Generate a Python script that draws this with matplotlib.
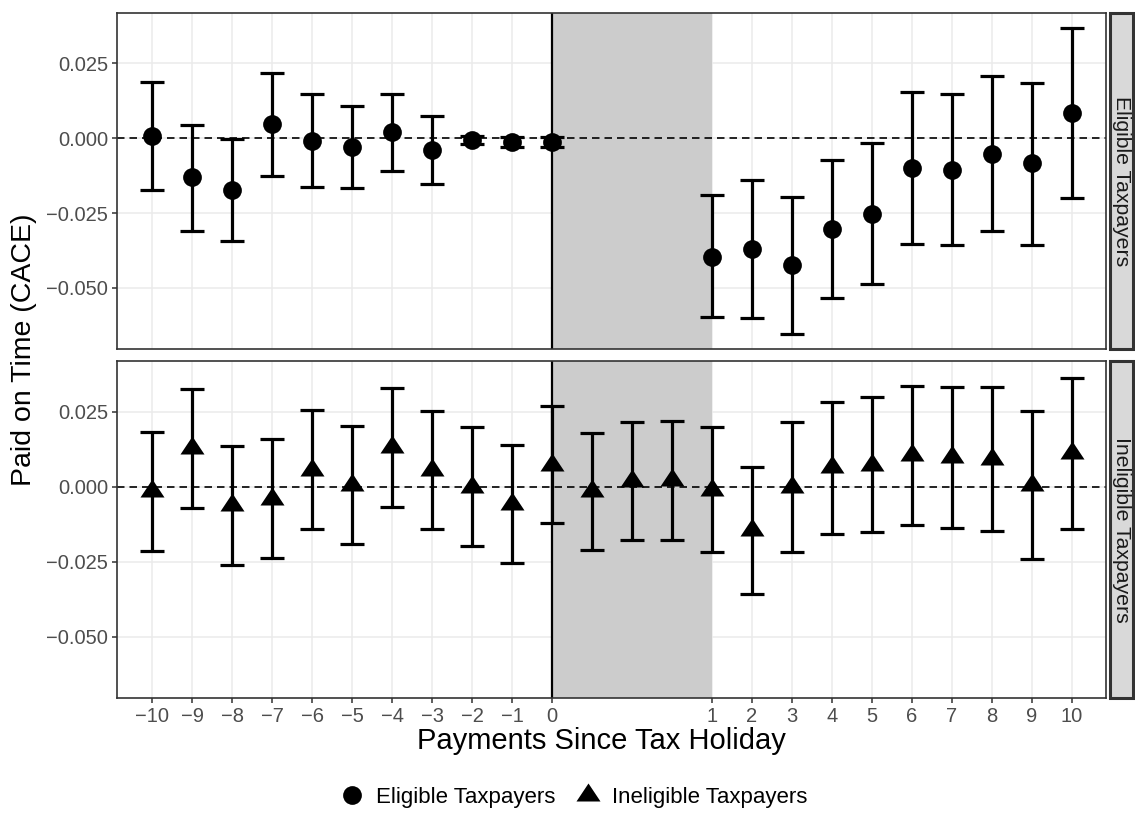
import numpy as np
import matplotlib
matplotlib.use("Agg")
import matplotlib.pyplot as plt
from matplotlib.path import Path
from matplotlib.patches import Rectangle
from matplotlib.lines import Line2D
from matplotlib.ticker import FuncFormatter, NullLocator

plt.rcParams['font.family'] = ['Liberation Sans', 'DejaVu Sans']

# ---------------- data ----------------
periods_elig = [-10, -9, -8, -7, -6, -5, -4, -3, -2, -1, 0,
                1, 2, 3, 4, 5, 6, 7, 8, 9, 10]
elig_est = [0.0007, -0.0131, -0.0173, 0.0046, -0.0009, -0.0029, 0.0019, -0.0040, -0.0005, -0.0012, -0.0012,
            -0.0396, -0.0371, -0.0424, -0.0303, -0.0252, -0.0100, -0.0107, -0.0052, -0.0084, 0.0084]
elig_lo = [-0.0173, -0.0309, -0.0342, -0.0127, -0.0163, -0.0166, -0.0109, -0.0152, -0.0018, -0.0028, -0.0028,
           -0.0598, -0.0601, -0.0653, -0.0533, -0.0487, -0.0352, -0.0358, -0.0311, -0.0356, -0.0201]
elig_hi = [0.0187, 0.0043, -0.0004, 0.0219, 0.0147, 0.0107, 0.0146, 0.0073, 0.0008, 0.0004, 0.0004,
           -0.0190, -0.0141, -0.0196, -0.0072, -0.0016, 0.0153, 0.0146, 0.0207, 0.0184, 0.0368]

periods_inel = [-10, -9, -8, -7, -6, -5, -4, -3, -2, -1, 0,
                0.25, 0.5, 0.75,
                1, 2, 3, 4, 5, 6, 7, 8, 9, 10]
inel_est = [-0.0015, 0.0128, -0.0062, -0.0040, 0.0056, 0.0006, 0.0131, 0.0055, 0.0000, -0.0059, 0.0073,
            -0.0015, 0.0019, 0.0022,
            -0.0010, -0.0145, -0.0002, 0.0064, 0.0073, 0.0104, 0.0098, 0.0092, 0.0006, 0.0111]
inel_lo = [-0.0213, -0.0070, -0.0260, -0.0238, -0.0142, -0.0192, -0.0067, -0.0142, -0.0196, -0.0254, -0.0121,
           -0.0210, -0.0179, -0.0176,
           -0.0219, -0.0357, -0.0217, -0.0156, -0.0152, -0.0127, -0.0138, -0.0148, -0.0240, -0.0140]
inel_hi = [0.0183, 0.0326, 0.0136, 0.0159, 0.0254, 0.0203, 0.0329, 0.0252, 0.0197, 0.0137, 0.0267,
           0.0180, 0.0216, 0.0220,
           0.0200, 0.0067, 0.0214, 0.0283, 0.0298, 0.0334, 0.0333, 0.0332, 0.0251, 0.0361]

x_ticks = list(range(-10, 11))
y_ticks = [-0.050, -0.025, 0.000, 0.025]
panel_labels = ["Eligible Taxpayers", "Ineligible Taxpayers"]
x_title = "Payments Since Tax Holiday"
y_title = "Paid on Time (CACE)"

# ---------------- scale: holiday window stretched (0..1 spans 4 steps) ----------------
def fwd(x):
    x = np.asarray(x, dtype=float)
    return np.where(x <= 0, x + 10, np.where(x <= 1, 10 + 4 * x, x + 13))

def inv(p):
    p = np.asarray(p, dtype=float)
    return np.where(p <= 10, p - 10, np.where(p <= 14, (p - 10) / 4, p - 13))

tri = Path([(0, 1), (-1, -0.5), (1, -0.5), (0, 0)],
           [Path.MOVETO, Path.LINETO, Path.LINETO, Path.CLOSEPOLY])

W, H = 1135, 818
fig = plt.figure(figsize=(W / 100, H / 100), dpi=100)
left = 116.7 / W
right = 1106 / W
ax1 = fig.add_axes([left, 1 - 349 / H, right - left, (349 - 12.7) / H])
ax2 = fig.add_axes([left, 1 - 698.3 / H, right - left, (698.3 - 360.7) / H])

def yfmt(v, _):
    return f"{v:.3f}".replace("-", "\u2212") if abs(v) > 1e-9 else "0.000"

def xfmt(v, _):
    return f"{int(round(v))}".replace("-", "\u2212")

series = [
    (ax1, periods_elig, elig_est, elig_lo, elig_hi, 'o', 13.5),
    (ax2, periods_inel, inel_est, inel_lo, inel_hi, tri, 17.3),
]

for ax, xs, est, lo, hi, mk, ms in series:
    ax.set_xscale('function', functions=(fwd, inv))
    ax.set_xlim(-10.89, 10.86)
    ax.set_ylim(-0.0704, 0.0419)
    ax.set_xticks(x_ticks)
    ax.set_yticks(y_ticks)
    ax.xaxis.set_minor_locator(NullLocator())
    ax.yaxis.set_minor_locator(NullLocator())
    ax.xaxis.set_major_formatter(FuncFormatter(xfmt))
    ax.yaxis.set_major_formatter(FuncFormatter(yfmt))
    ax.grid(True, color='#EBEBEB', lw=1.1)
    ax.set_axisbelow(True)
    ax.axvspan(0, 1, color='#CCCCCC', lw=0, zorder=1)
    ax.axhline(0, color='black', lw=1.2, ls=(0, (4.5, 3)), zorder=2)
    ax.axvline(0, color='black', lw=1.6, zorder=2)
    est_a = np.array(est)
    yerr = [est_a - np.array(lo), np.array(hi) - est_a]
    ax.errorbar(xs, est_a, yerr=yerr, fmt='none', ecolor='black',
                elinewidth=2.3, capsize=8.3, capthick=2.3, zorder=3)
    ax.plot(xs, est_a, ls='none', marker=mk, ms=ms, color='black', mew=0, zorder=4)
    for s in ax.spines.values():
        s.set_color('#333333')
        s.set_linewidth(1.2)
    ax.tick_params(direction='out', length=3.6, width=1.1, color='#333333',
                   labelcolor='#4D4D4D', labelsize=14.5, pad=2.5)

ax1.tick_params(axis='x', bottom=False, labelbottom=False)

# strips
for ax, lab in zip([ax1, ax2], panel_labels):
    bb = ax.get_position()
    x0 = 1109.5 / W
    sw = 23.5 / W
    fig.patches.append(Rectangle((x0, bb.y0), sw, bb.height, transform=fig.transFigure,
                                 facecolor='#D9D9D9', edgecolor='#333333', lw=2.2))
    fig.text(x0 + sw / 2, bb.y0 + bb.height / 2, lab, rotation=270, ha='center', va='center',
             fontsize=15.3, color='#1A1A1A')

fig.text(601 / W, 1 - 741 / H, x_title, ha='center', va='center', fontsize=21, color='black')
fig.text(24 / W, 1 - 350 / H, y_title, rotation=90, ha='center', va='center', fontsize=20.5, color='black')

handles = [Line2D([], [], ls='none', marker='o', ms=13.5, color='black', mew=0),
           Line2D([], [], ls='none', marker=tri, ms=17.3, color='black', mew=0)]
fig.legend(handles, panel_labels, loc='center', bbox_to_anchor=(0.506, 1 - 797 / H), ncol=2,
           frameon=False, fontsize=16, handlelength=1.0, handletextpad=0.6, columnspacing=0.95)

fig.savefig("out.png", dpi=100)
